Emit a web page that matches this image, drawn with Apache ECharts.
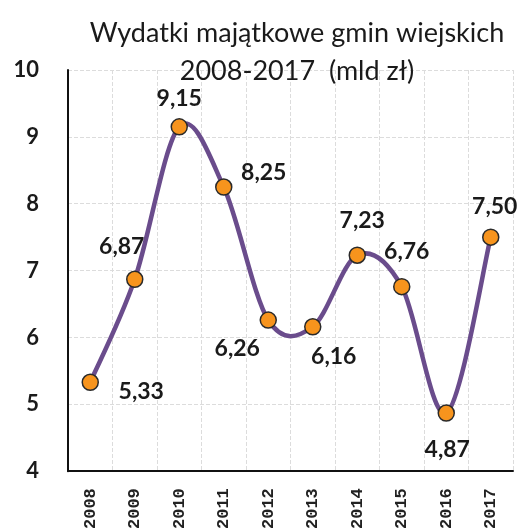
<!DOCTYPE html>
<html>
<head>
<meta charset="utf-8">
<script src="https://cdn.jsdelivr.net/npm/echarts@6/dist/echarts.min.js"></script>
<style>
html,body{margin:0;padding:0;background:#fff;}
#c{width:523px;height:532px;}
</style>
</head>
<body>
<div id="c"></div>
<script>
const years = ['2008','2009','2010','2011','2012','2013','2014','2015','2016','2017'];
const values = [5.33, 6.87, 9.15, 8.25, 6.26, 6.16, 7.23, 6.76, 4.87, 7.50];
const titleLines = ['Wydatki majątkowe gmin wiejskich', '2008-2017  (mld zł)'];

const labelOffsets = [[51,9],[-13,-33],[0,-28],[40,-14],[-31,29],[21,30],[5,-35],[5,-35],[1,37],[4,-31]];

const chart = echarts.init(document.getElementById('c'), null, {renderer:'canvas'});
const fmt = v => v.toFixed(2).replace('.', ',');

function renderCurve(params, api) {
  if (params.dataIndex !== 0) return null;
  const pts = values.map((v, i) => api.coord([i, v]));
  const n = pts.length;
  let d = 'M' + pts[0][0] + ' ' + pts[0][1];
  for (let i = 0; i < n - 1; i++) {
    const p0 = pts[Math.max(0, i - 1)], p1 = pts[i], p2 = pts[i + 1], p3 = pts[Math.min(n - 1, i + 2)];
    const c1x = p1[0] + (p2[0] - p0[0]) / 6, c1y = p1[1] + (p2[1] - p0[1]) / 6;
    const c2x = p2[0] - (p3[0] - p1[0]) / 6, c2y = p2[1] - (p3[1] - p1[1]) / 6;
    d += ' C' + c1x + ' ' + c1y + ' ' + c2x + ' ' + c2y + ' ' + p2[0] + ' ' + p2[1];
  }
  return {
    type: 'path',
    shape: { pathData: d },
    style: { stroke: '#6a4c8c', lineWidth: 4.5, fill: 'none', lineJoin: 'round', lineCap: 'round' }
  };
}

chart.setOption({
  animation:false,
  backgroundColor:'#fff',
  title:{
    text: titleLines.join('\n'),
    left: 292, top: 9, textAlign:'center',
    textStyle:{fontFamily:'Lato', fontSize:27, fontWeight:'normal', color:'#1a1a1a', lineHeight:38}
  },
  grid:{left:68, right:10, top:70, bottom:60, containLabel:false},
  xAxis:{
    type:'category', data: years, boundaryGap:true,
    axisLine:{show:true, lineStyle:{color:'#111', width:2}},
    axisTick:{show:false},
    splitLine:{show:true, lineStyle:{color:'#dcdcdc', type:'dashed', width:1}},
    axisLabel:{rotate:90, fontFamily:'Liberation Mono', fontWeight:'bold', fontSize:17, color:'#222', margin:17}
  },
  yAxis:{
    type:'value', min:4, max:10, interval:1,
    axisLine:{show:true, lineStyle:{color:'#111', width:2}},
    axisTick:{show:false},
    splitLine:{show:true, lineStyle:{color:'#dcdcdc', type:'dashed', width:1}},
    axisLabel:{fontFamily:'Lato', fontWeight:'bold', fontSize:22, color:'#1a1a1a', margin:29}
  },
  series:[{
    type:'custom',
    coordinateSystem:'cartesian2d',
    data: values.map((v,i)=>[i,v]),
    encode:{x:0, y:1},
    renderItem: renderCurve,
    clip:false,
    z:2
  },{
    type:'scatter',
    data: values.map((v,i)=>({value:[i,v], label:{offset:labelOffsets[i]}})),
    symbol:'circle', symbolSize:16,
    itemStyle:{color:'#f7941d', borderColor:'#2a2a2a', borderWidth:1.5, opacity:1},
    label:{show:true, position:'inside', formatter:p=>fmt(p.value[1]),
      fontFamily:'Lato', fontWeight:'bold', fontSize:23, color:'#1a1a1a'},
    z:3
  }]
});
</script>
</body>
</html>
